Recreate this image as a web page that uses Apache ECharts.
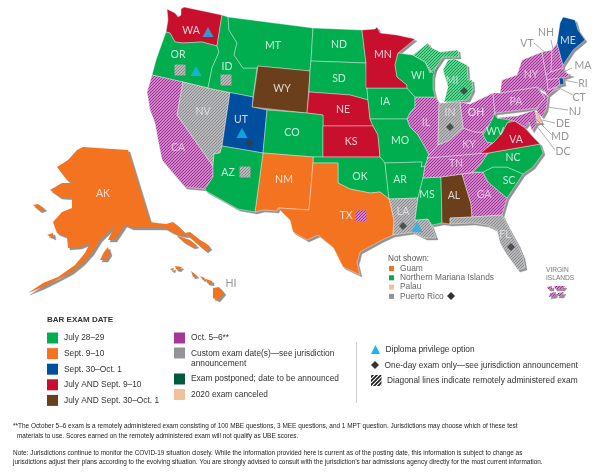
<!DOCTYPE html>
<html><head><meta charset="utf-8">
<style>html,body{margin:0;padding:0;background:#fff}#c{width:600px;height:473px}</style>
<script src="https://cdn.jsdelivr.net/npm/echarts@6/dist/echarts.min.js"></script>
</head><body><div id="c"></div>
<script>
// ---------- DATA ----------
const july2829 = ['MT','ND','SD','ID','OR','CO','AZ','OK','AR','MS','NC','SC','IA','MO','WI','WV'];
const sept910 = ['AK','HI','NM','TX'];
const sept30 = ['UT','ME','RI'];
const julyAndSept = ['WA','MN','NE','KS','VA'];
const julyAndSept30 = ['WY','AL'];
const canceled = ['DE'];
const remoteOct = ['CA','IL','OH','KY','TN','GA','PA','NY','VT','NH','MA','CT','NJ','MD','VI'];
const remoteCustom = ['NV','IN','LA','FL'];
const remoteJuly = ['MI'];
const diplomaPrivilege = [[208,32],[196,71],[242,133],[417,227]];
const oneDayExam = [[249,143],[403,226],[511,247],[464,91],[450,127]];
const remoteGreyBoxes = [[180,70],[226,80],[245,172]];
const remoteOctBoxes = [[361,216]];
const stateLabels = [['WA',191,31],['OR',178,55],['ID',227,67],['MT',273,46],['ND',339,45],['SD',339,79],['WY',282,89],['NE',343,110],['KS',351,142],['CO',292,133],['UT',241,120],['NV',203,112],['CA',178,148],['AZ',228,173],['NM',284,180],['TX',346,216],['OK',360,177],['MN',383,55],['IA',385,102],['MO',400,141],['AR',400,180],['LA',403,212],['MS',427,195],['AL',454,196],['GA',484,195],['FL',505,235],['SC',509,181],['NC',513,158],['TN',456,164],['KY',469,145],['IL',426,123],['IN',450,113],['OH',476,113],['MI',452,81],['WI',418,76],['WV',495,132],['VA',516,140],['PA',516,102],['NY',531,75],['ME',568,41],['AK',103,194]];
const outsideLabels = [['NH',546,33],['VT',527,44],['MA',583,66],['RI',583,84],['CT',579,98],['NJ',575,112],['DE',563,124],['MD',560,137],['DC',563,152],['HI',231,284]];
const leaderLines = [[[534,43],[548,55]],[[551,40],[555,58]],[[572,68],[557,75]],[[578,83],[564,80]],[[573,95],[557,87]],[[568,110],[547,107]],[[555,123],[542,120]],[[552,135],[532,115]],[[555,150],[530,117]]];
const legendCol1 = ['July 28–29','Sept. 9–10','Sept. 30–Oct. 1','July AND Sept. 9–10','July AND Sept. 30–Oct. 1'];
const legendCol2 = ['Oct. 5–6**','Custom exam date(s)—see jurisdiction\nannouncement','Exam postponed; date to be announced','2020 exam canceled'];
const notShown = ['Guam','Northern Mariana Islands','Palau','Puerto Rico'];
const keyNotes = ['Diploma privilege option','One-day exam only—see jurisdiction announcement','Diagonal lines indicate remotely administered exam'];
const footnotes = [
 '**The October 5–6 exam is a remotely administered exam consisting of 100 MBE questions, 3 MEE questions, and 1 MPT question. Jurisdictions may choose which of these test',
 'materials to use. Scores earned on the remotely administered exam will not qualify as UBE scores.',
 'Note: Jurisdictions continue to monitor the COVID-19 situation closely. While the information provided here is current as of the posting date, this information is subject to change as',
 'jurisdictions adjust their plans according to the evolving situation. You are strongly advised to consult with the jurisdiction’s bar admissions agency directly for the most current information.'];
const softLabels = ['CA','NV','IL','IN','KY','TN','GA','PA','NY','LA','FL','MI'];
// state outlines (map geometry), one or more rings each
const outlines = {
WA:[[[167,9],[175,13],[178,17],[181,15],[181,9],[184,7],[222,15],[217,46],[202,42],[183,43],[175,42],[170,33],[166,32],[168,20]]],
OR:[[[166,32],[170,33],[175,42],[183,43],[202,42],[217,46],[219,52],[212,68],[208,88],[183,82],[152,75],[156,60],[162,43]]],
CA:[[[152,75],[183,82],[177,115],[213,166],[213,177],[205,189],[185,187],[173,173],[162,160],[158,140],[155,123],[150,110],[147,92]]],
NV:[[[183,82],[208,88],[230,92.5],[222,146],[220,153],[214,154],[213,166],[177,115]]],
ID:[[[222,15],[228,17],[229,30],[237,43],[234,55],[243,68],[257,68],[253,97],[230,92.5],[208,88],[212,68],[219,52],[217,46]]],
MT:[[[228,17],[313,28],[311,61],[310,71],[258,66],[257,68],[243,68],[234,55],[237,43],[229,30]]],
WY:[[[258,66],[310,71],[307,113],[252,107]]],
ND:[[[313,28],[362,30],[366,63],[311,61]]],
SD:[[[311,61],[366,63],[367,88],[368,100],[350,95],[309,92],[310,71]]],
NE:[[[309,92],[350,95],[368,100],[370,119],[373,126],[323,126],[323,115],[307,113]]],
UT:[[[230,92.5],[253,97],[252,107],[267,110],[263,153],[222,146]]],
CO:[[[267,110],[307,113],[323,115],[323,126],[323,157],[313,157],[263,153]]],
KS:[[[323,126],[373,126],[378,135],[380,157],[323,157]]],
IA:[[[366,88],[407,88],[415,97],[415,107],[410,113],[407,119],[370,119],[368,100],[367,88]]],
MN:[[[362,30],[375,29],[377,27],[380,33],[397,35],[415,39],[398,53],[395,65],[397,77],[407,85],[407,88],[366,88],[366,63]]],
MO:[[[370,119],[407,119],[410,127],[418,135],[425,147],[429,155],[425,166],[421,167],[422,162],[385,163],[380,157],[378,135],[373,126]]],
OK:[[[313,157],[323,157],[380,157],[385,163],[389,199],[380,192],[370,193],[350,189],[338,183],[338,163],[313,163]]],
NM:[[[263,153],[313,157],[313,163],[309,210],[278,208],[277,211],[263,210],[255,212]]],
AZ:[[[222,146],[263,153],[255,212],[238,209],[206,191],[205,189],[213,177],[213,166],[214,154],[220,153]]],
TX:[[[313,163],[338,163],[338,183],[350,189],[370,193],[380,192],[389,199],[390,202],[394,220],[393,235],[382,240],[360,252],[357,263],[360,275],[343,267],[333,247],[318,235],[307,240],[293,232],[290,220],[278,208],[309,210]]],
AR:[[[385,163],[422,162],[421,167],[425,166],[423,178],[418,198],[389,199]]],
LA:[[[389,199],[418,198],[415,220],[428,219],[432,227],[436,238],[425,238],[413,232],[393,235],[394,220],[390,202]]],
MS:[[[423,178],[441,177],[442,223],[432,225],[428,219],[415,220],[418,198]]],
AL:[[[441,177],[462,174],[471,204],[472,217],[450,218],[450,224],[443,223],[442,223]]],
GA:[[[462,174],[483,172],[488,182],[507,198],[502,215],[472,217],[471,204]]],
FL:[[[450,218],[472,217],[502,215],[508,227],[518,245],[523,257],[525,268],[518,270],[505,252],[500,243],[497,230],[487,225],[473,223],[450,224]]],
SC:[[[483,172],[493,167],[507,167],[523,174],[507,198],[488,182]]],
NC:[[[473,172],[480,165],[488,153],[540,144],[543,153],[533,167],[523,174],[507,167],[493,167],[483,172]]],
TN:[[[427,158],[480,153.5],[488,153],[480,165],[473,172],[462,174],[441,177],[423,178],[425,166],[429,155]]],
KY:[[[429,155],[438,145],[450,140],[463,128],[475,132],[483,132],[483,135],[487,142],[493,143],[480,153.5],[427,158]]],
VA:[[[480,153.5],[493,143],[502,133],[507,123],[515,121],[525,128],[533,137],[540,144],[488,153]]],
WV:[[[494,112],[497,118],[507,117],[517,116],[507,123],[502,133],[493,143],[487,142],[483,135],[488,127],[495,113]]],
OH:[[[460,102],[470,104],[493,93],[495,113],[488,127],[483,132],[475,132],[463,128]]],
IL:[[[415,97],[435,97],[439,103],[438,145],[429,155],[425,147],[418,135],[410,127],[407,119],[410,113],[415,107]]],
IN:[[[439,103],[460,102],[463,128],[450,140],[438,145]]],
WI:[[[398,53],[413,55],[425,62],[430,73],[436,65],[433,77],[433,88],[435,97],[415,97],[407,88],[407,85],[397,77],[395,65]]],
MI:[[[413,55],[428,43],[430,47],[440,52],[458,50],[459,57],[443,57],[432,73],[425,62]],[[443,70],[448,60],[455,59],[467,65],[468,80],[472,80],[473,90],[468,100],[444,102],[448,87]]],
PA:[[[493,93],[500,93],[537,87],[545,98],[537,108],[495,113]]],
NY:[[[500,93],[502,80],[517,75],[522,60],[542,52],[546,75],[547,80],[548,90],[558,87],[547,96],[545,91],[537,87]]],
VT:[[[542,52],[552,50],[551,72],[546,75]]],
NH:[[[552,50],[557,43],[563,65],[563,68],[551,72]]],
ME:[[[557,43],[560,23],[563,17],[575,20],[578,30],[585,40],[573,50],[563,65]]],
MA:[[[546,75],[551,72],[563,68],[566,73],[572,75],[563,78],[547,80]]],
CT:[[[547,80],[559,78],[560,85],[548,90]]],
RI:[[[559,78],[563,78],[564,84],[560,85]]],
NJ:[[[541,92],[548,96],[546,110],[542,117],[537,112],[537,108],[545,98]]],
DE:[[[535,110],[538,115],[542,123],[537,123]]],
MD:[[[497,118],[507,117],[517,116],[535,110],[537,123],[532,131],[529,122],[525,127],[519,124],[515,121]]],
AK:[[[83,147],[128,150],[150,222],[157,223],[166,224],[173,222],[178,226],[188,236],[180,235],[172,232],[165,228],[157,228],[143,228],[132,228],[125,225],[115,240],[108,240],[115,225],[100,240],[92,253],[83,263],[72,272],[57,280],[43,287],[28,293],[43,283],[58,277],[75,265],[85,253],[90,243],[80,247],[68,248],[67,237],[57,233],[53,222],[62,212],[72,208],[72,198],[60,197],[50,190],[62,183],[73,183],[67,180],[57,167],[68,160],[77,150]],[[176,235],[181,237],[190,240],[197,246],[193,247],[184,242]],[[185,233],[190,232],[200,240],[207,244],[210,248],[206,251],[200,246],[191,238]],[[47,235],[53,233],[54,238]],[[33,205],[38,204],[45,209],[40,211]],[[100,260],[104,252],[108,247],[110,254],[106,260]]],
HI:[[[213,288],[219,287],[224,293],[218,300],[213,298]],[[206,279],[212,281],[212,284],[207,283]],[[200,276],[205,278],[203,280]],[[191,271],[197,276],[193,277]],[[175,266],[182,267],[179,270],[176,269]],[[170,269],[174,268],[173,271]]],
VI:[[[547,287],[552,286],[552,289],[548,289]],[[554,286],[565,286],[563,289],[555,289]],[[550,293],[556,292],[555,296],[549,297]],[[558,293],[564,292],[562,296],[557,296]]]
};
// ---------- STYLE ----------
const C={green:'#00ae4f',orange:'#f47321',blue:'#004f9e',red:'#c8102e',brown:'#6b3f1c',mag:'#a6369a',grey:'#929497',dkgreen:'#005a3c',peach:'#f2c19c'};
function hatch(fg,bg,w,size){const s=size||3,c=document.createElement('canvas');c.width=c.height=s;const x=c.getContext('2d');
 x.fillStyle=bg;x.fillRect(0,0,s,s);x.strokeStyle=fg;x.lineWidth=w;
 [[-1,1,1,-1],[0,s,s,0],[s-1,s+1,s+1,s-1]].forEach(l=>{x.beginPath();x.moveTo(l[0],l[1]);x.lineTo(l[2],l[3]);x.stroke();});
 return {image:c,repeat:'repeat'};}
const hMag=hatch('#a5309a','#edcbe9',1.3),hGrey=hatch('#8b8c90','#dcdcdc',1.3),hGreen=hatch('#00a94b','#d6f2e0',1.5),hBlack=hatch('#1a1a1a','#ffffff',1.6,4);
const fillOf={};
[[july2829,C.green],[sept910,C.orange],[sept30,C.blue],[julyAndSept,C.red],[julyAndSept30,C.brown],[canceled,C.peach],[remoteOct,hMag],[remoteCustom,hGrey],[remoteJuly,hGreen]]
 .forEach(g=>g[0].forEach(s=>fillOf[s]=g[1]));
echarts.registerMap('us',{type:'FeatureCollection',features:Object.keys(outlines).map(k=>({type:'Feature',properties:{name:k},geometry:{type:'MultiPolygon',coordinates:outlines[k].map(r=>[r])}}))});
const identity={project:p=>p,unproject:p=>p};
const geoBase={map:'us',projection:identity,aspectScale:1,boundingCoords:[[0,0],[600,473]],layoutSize:600,roam:false,silent:true,label:{show:false},emphasis:{disabled:true},select:{disabled:true}};
const labelFont='Lato, "Open Sans", sans-serif', sans='"Liberation Sans", Arial, sans-serif';
// ---------- LEGEND AS GRAPHICS ----------
const g=[];
const txt=(x,y,t,o)=>g.push({type:'text',x,y,silent:true,style:Object.assign({text:t,fill:'#333',font:'8.35px '+sans,verticalAlign:'middle',lineHeight:10},o||{})});
const box=(x,y,w,h,f)=>g.push({type:'rect',silent:true,shape:{x,y,width:w,height:h},style:{fill:f}});
txt(47,320,'BAR EXAM DATE',{font:'bold 8px '+sans});
[C.green,C.orange,C.blue,C.red,C.brown].forEach((f,i)=>{const y=338+i*15.6;box(47,y-5.5,11,11,f);txt(64,y,legendCol1[i]);});
[[C.mag,338],[C.grey,353],[C.dkgreen,379],[C.peach,394.5]].forEach(r=>{box(174,r[1]-5.5,11,11,r[0]);});
txt(191,338,legendCol2[0]);
txt(191,353.5,legendCol2[1].split('\n')[0]);txt(191,363.5,legendCol2[1].split('\n')[1]);
txt(191,379,legendCol2[2]);txt(191,394.5,legendCol2[3]);
g.push({type:'line',silent:true,shape:{x1:356.5,y1:342,x2:356.5,y2:403},style:{stroke:'#cfcfcf',lineWidth:1}});
g.push({type:'polygon',silent:true,shape:{points:[[371,354],[380,354],[375.5,345]]},style:{fill:'#19b5f1'}});
g.push({type:'polygon',silent:true,shape:{points:[[375,361],[379,365],[375,369],[371,365]]},style:{fill:'#333'}});
box(371,375,10.5,11,hBlack);
txt(385.5,350,keyNotes[0]);txt(384.5,365.5,keyNotes[1]);txt(387,381,keyNotes[2]);
txt(388,259,'Not shown:',{fill:'#555',font:'8.2px '+sans});
[C.orange,C.green,C.peach,C.grey].forEach((f,i)=>{const y=268.5+i*9.3;box(389,y-2.5,5,5,f);txt(400,y,notShown[i],{fill:'#666',font:'8.4px '+sans});});
g.push({type:'polygon',silent:true,shape:{points:[[451,292],[455,296],[451,300],[447,296]]},style:{fill:'#333'}});
txt(546,270,'VIRGIN',{fill:'#777',font:'6.6px '+sans});txt(546,278,'ISLANDS',{fill:'#777',font:'6.6px '+sans});
const narrow='"Liberation Sans Narrow", "Liberation Sans", sans-serif';
[[13,426],[17,436],[13,453],[13,462.5]].forEach((p,i)=>txt(p[0],p[1],footnotes[i],{font:'6.45px '+narrow,fill:'#222'}));
// ---------- CHART ----------
const pts=a=>a.map(r=>({name:r[0],value:[r[1],r[2]]}));
const chart=echarts.init(document.getElementById('c'),null,{renderer:'canvas'});
chart.setOption({animation:false,backgroundColor:'#fff',
 geo:[
  Object.assign({},geoBase,{z:0,layoutCenter:[302,238.5],itemStyle:{areaColor:'rgba(110,110,110,0.75)',borderColor:'rgba(150,150,150,0.4)',borderWidth:1}}),
  Object.assign({},geoBase,{z:1,layoutCenter:[300,236.5],itemStyle:{areaColor:'#ccc',borderColor:'rgba(255,255,255,0.7)',borderWidth:0.55},
    regions:Object.keys(outlines).map(k=>({name:k,itemStyle:Object.assign({areaColor:fillOf[k]},['AK','HI','VI'].includes(k)?{borderWidth:0}:{})}))})
 ],
 series:[
  {type:'lines',coordinateSystem:'geo',geoIndex:1,z:3,silent:true,lineStyle:{color:'#9a9a9a',width:0.8,opacity:1},data:leaderLines.map(c=>({coords:c}))},
  {type:'custom',coordinateSystem:'geo',geoIndex:1,z:4,silent:true,data:remoteGreyBoxes.concat(remoteOctBoxes),encode:{x:0,y:1},
   renderItem:(p,api)=>{const c=api.coord([api.value(0),api.value(1)]);const f=p.dataIndex<remoteGreyBoxes.length?hGrey:hMag;
     return {type:'rect',shape:{x:c[0]-5.5,y:c[1]-5.5,width:11,height:11},style:{fill:f}};}},
  {type:'scatter',coordinateSystem:'geo',geoIndex:1,z:5,silent:true,symbol:'triangle',symbolSize:[11,10],itemStyle:{color:'#19b5f1'},data:diplomaPrivilege},
  {type:'scatter',coordinateSystem:'geo',geoIndex:1,z:5,silent:true,symbol:'diamond',symbolSize:[8,8],itemStyle:{color:'#3a3a3a'},data:oneDayExam},
  {type:'scatter',coordinateSystem:'geo',geoIndex:1,z:6,silent:true,symbolSize:0,
   data:pts(stateLabels).map(d=>Object.assign(d,{label:{color:softLabels.includes(d.name)?'rgba(255,255,255,0.72)':'#fbfbfb'}})),
   label:{show:true,position:'inside',formatter:'{b}',fontFamily:labelFont,fontSize:10.5}},
  {type:'scatter',coordinateSystem:'geo',geoIndex:1,z:6,silent:true,symbolSize:0,data:pts(outsideLabels),
   label:{show:true,position:'inside',formatter:'{b}',fontFamily:labelFont,fontSize:10.5,color:'#7b7b7b'}}
 ],
 graphic:{elements:g}
});
</script></body></html>
